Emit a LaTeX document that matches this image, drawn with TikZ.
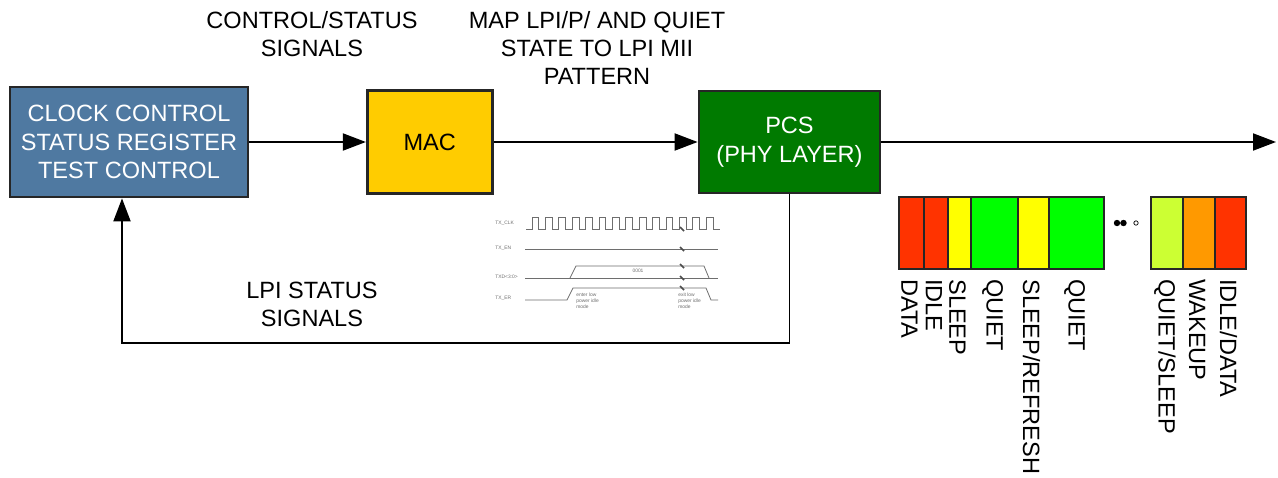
\documentclass[tikz,border=0pt]{standalone}
\usepackage{fontspec}
\setmainfont{Liberation Sans}
\usetikzlibrary{positioning,arrows.meta}

\definecolor{ctrlblue}{RGB}{79,121,161}
\definecolor{macgold}{RGB}{255,204,0}
\definecolor{pcsgreen}{RGB}{0,122,0}
\definecolor{datared}{RGB}{255,51,0}
\definecolor{sleepyellow}{RGB}{255,255,0}
\definecolor{quietgreen}{RGB}{0,255,0}
\definecolor{quietlime}{RGB}{204,255,51}
\definecolor{wakeorange}{RGB}{255,153,0}
\definecolor{wavegray}{RGB}{110,110,110}

\tikzset{
  block/.style={draw=black!85, line width=1.6pt, align=center, inner sep=0pt,
    font=\fontsize{13.4}{16.2}\selectfont},
  caption/.style={align=center, inner sep=0pt, font=\fontsize{13.4}{16}\selectfont},
  cell/.style={draw=black!85, line width=1.4pt, minimum height=1.44cm, inner sep=0pt, outer sep=0pt},
  state/.style={rotate=-90, anchor=west, inner sep=0pt, font=\fontsize{13.4}{16}\selectfont},
  flow/.style={line width=1.1pt, -{Triangle[length=0.46cm, width=0.34cm]}},
  wave/.style={draw=wavegray, line width=0.45pt},
  tiny/.style={inner sep=0pt, text=wavegray, align=left, font=\fontsize{2.8}{3.2}\selectfont}
}

\begin{document}
\begin{tikzpicture}[x=0.02cm, y=-0.02cm]
    \useasboundingbox[fill=white] (0,0) rectangle (1278,477);

    % blocks
    \node[block, fill=ctrlblue, text=white, minimum width=4.76cm, minimum height=2.2cm] (ctrl) at (129,142)
        {CLOCK CONTROL\\STATUS REGISTER\\TEST CONTROL};
    \node[block, fill=macgold, minimum width=2.5cm, minimum height=2.06cm, right=2.33cm of ctrl] (mac) {MAC};
    \node[block, fill=pcsgreen, text=white, minimum width=3.62cm, minimum height=2.04cm, right=4.08cm of mac] (pcs)
        {PCS\\(PHY LAYER)};

    % captions
    \node[caption] (ctrlsig) at (312,34) {CONTROL/STATUS\\SIGNALS};
    \node[caption] (mapnote) at (597,48) {MAP LPI/P/ AND QUIET\\STATE TO LPI MII\\PATTERN};
    \node[caption] (lpisig) at (312,304) {LPI STATUS\\SIGNALS};

    % connectors
    \coordinate (sink) at (1276,142);
    \coordinate (fb) at (122,343);
    \draw[flow] (ctrl) -- (mac);
    \draw[flow] (mac) -- (pcs);
    \draw[flow] (pcs.east) -- (pcs.east -| sink);
    \draw[flow] (pcs.south) |- (fb) -- (fb |- ctrl.south);

    % LPI state bar
    \foreach \n/\l/\r/\c/\t in {1/899/924/datared/DATA, 2/924/948/datared/IDLE,
        3/948/971/sleepyellow/SLEEP, 4/971/1018/quietgreen/QUIET,
        5/1018/1049/sleepyellow/SLEEP\slash REFRESH, 6/1049/1104/quietgreen/QUIET,
        7/1151/1183/quietlime/QUIET\slash SLEEP, 8/1183/1215/wakeorange/WAKEUP,
        9/1215/1246/datared/IDLE\slash DATA}{
        \node[cell, fill=\c, minimum width={(\r-\l)*0.02cm}] (cell\n) at ({(\l+\r)/2},233) {};
        \node[state] (lab\n) at ([xshift=-0.04cm, yshift=-0.2cm]cell\n.south) {\t};
    }
    \fill (1117,223) circle (3.2) (1123.5,223) circle (3.2);
    \draw[line width=0.4pt] (1136,223) circle (2.2);

    % timing sketch
    \node[tiny, anchor=west] (clk) at (495,223) {TX\_CLK};
    \node[tiny, anchor=west] (en) at (495,248) {TX\_EN};
    \node[tiny, anchor=west] (txd) at (495,277) {TXD<3:0>};
    \node[tiny, anchor=west] (er) at (495,298) {TX\_ER};
    \draw[wave] (526,229) -- (532,229)
        \foreach \i in {0,...,13}{ -- ++(0,-12) -- ++(6.7,0) -- ++(0,12) -- ++(6.7,0) };
    \draw[wave] (525,249) -- (718,249);
    \draw[wave] (525,278) -- (718,278);
    \draw[wave] (570,278) -- (576,266) -- (704,266) -- (709,278);
    \draw[wave] (525,300) -- (567,300) -- (573,288) -- (706,288) -- (711,300) -- (718,300);
    \node[tiny] (word) at (638,271) {0001};
    \node[tiny, anchor=north west] (enter) at (576,293) {enter low\\power idle\\mode};
    \node[tiny, anchor=north west] (exit) at (678,293) {exit low\\power idle\\mode};
    \foreach \y in {229,249,266,278,288}
        \draw[wave, line width=0.9pt, draw=black!70] (680,\y-2) -- (684,\y+2);

\end{tikzpicture}
\end{document}
